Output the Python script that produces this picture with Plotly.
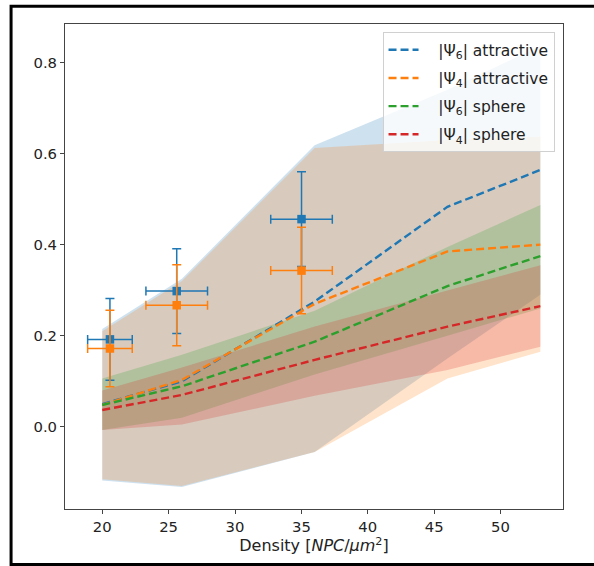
import plotly.graph_objects as go

# Simulation densities (NPC / um^2)
x_sim = [20, 26, 36, 46, 53]

# |Psi6| attractive: mean and band limits
psi6_attr_mean = [0.050, 0.100, 0.275, 0.483, 0.564]
psi6_attr_lo = [-0.118, -0.132, -0.055, 0.150, 0.290]
psi6_attr_hi = [0.215, 0.325, 0.618, 0.740, 0.836]

# |Psi4| attractive
psi4_attr_mean = [0.048, 0.103, 0.270, 0.385, 0.400]
psi4_attr_lo = [-0.115, -0.130, -0.055, 0.106, 0.165]
psi4_attr_hi = [0.210, 0.320, 0.612, 0.630, 0.637]

# |Psi6| sphere
psi6_sph_mean = [0.048, 0.089, 0.187, 0.309, 0.375]
psi6_sph_lo = [-0.007, 0.020, 0.115, 0.200, 0.260]
psi6_sph_hi = [0.106, 0.158, 0.255, 0.395, 0.487]

# |Psi4| sphere
psi4_sph_mean = [0.037, 0.070, 0.147, 0.220, 0.265]
psi4_sph_lo = [-0.007, 0.005, 0.068, 0.125, 0.176]
psi4_sph_hi = [0.080, 0.130, 0.220, 0.300, 0.355]

# Experimental measurements
x_exp = [20.58, 25.61, 35.01]
x_exp_err = [1.68, 2.32, 2.32]
psi6_exp = [0.192, 0.298, 0.456]
psi6_exp_err = [0.090, 0.093, 0.104]
psi4_exp = [0.172, 0.267, 0.343]
psi4_exp_err = [0.084, 0.089, 0.095]

labels = ["|Ψ<sub>6</sub>| attractive", "|Ψ<sub>4</sub>| attractive",
          "|Ψ<sub>6</sub>| sphere", "|Ψ<sub>4</sub>| sphere"]
colors = ["#1f77b4", "#ff7f0e", "#2ca02c", "#d62728"]
rgb = [(31, 119, 180), (255, 127, 14), (44, 160, 44), (214, 39, 40)]
series = [
    (psi6_attr_mean, psi6_attr_lo, psi6_attr_hi),
    (psi4_attr_mean, psi4_attr_lo, psi4_attr_hi),
    (psi6_sph_mean, psi6_sph_lo, psi6_sph_hi),
    (psi4_sph_mean, psi4_sph_lo, psi4_sph_hi),
]
FILL_ALPHA = 0.22
FONT = "DejaVu Sans"
PAD = "\u00a0\u00a0\u00a0"  # gap between legend line sample and its label

fig = go.Figure()

# Shaded bands
for (mean, lo, hi), (r, g, b) in zip(series, rgb):
    fig.add_trace(go.Scatter(
        x=x_sim + x_sim[::-1], y=hi + lo[::-1],
        fill="toself", fillcolor=f"rgba({r},{g},{b},{FILL_ALPHA})",
        line=dict(width=0), mode="lines", showlegend=False, hoverinfo="skip"))

# Dashed mean curves
for i, ((mean, lo, hi), c, lab) in enumerate(zip(series, colors, labels)):
    fig.add_trace(go.Scatter(
        x=x_sim, y=mean, mode="lines", name=PAD + lab, legendgroup=f"g{i}",
        line=dict(color=c, width=2.4, dash="8px,4px")))

# Experimental points with error bars
for yv, ye, c in [(psi6_exp, psi6_exp_err, colors[0]), (psi4_exp, psi4_exp_err, colors[1])]:
    fig.add_trace(go.Scatter(
        x=x_exp, y=yv, mode="markers", showlegend=False,
        marker=dict(symbol="square", size=8.5, color=c),
        error_y=dict(type="data", array=ye, color=c, thickness=1.5, width=4.5),
        error_x=dict(type="data", array=x_exp_err, color=c, thickness=1.5, width=4.5)))

# Axis limits with 5% padding around all plotted data
x_all = x_sim + [a - e for a, e in zip(x_exp, x_exp_err)] + [a + e for a, e in zip(x_exp, x_exp_err)]
y_all = [v for s in series for arr in s for v in arr]
y_all += [a + e for a, e in zip(psi6_exp, psi6_exp_err)] + [a - e for a, e in zip(psi4_exp, psi4_exp_err)]
xmin, xmax = min(x_all), max(x_all)
ymin, ymax = min(y_all), max(y_all)
xpad, ypad = 0.05 * (xmax - xmin), 0.05 * (ymax - ymin)

axis_common = dict(showline=True, linecolor="#444", linewidth=1, mirror=True,
                   ticks="outside", ticklen=4, tickwidth=1, tickcolor="#444",
                   showgrid=False, zeroline=False,
                   tickfont=dict(family=FONT, size=14.8, color="#222"))

fig.update_layout(
    width=594, height=566,
    margin=dict(l=65, r=30.5, t=24, b=57),
    paper_bgcolor="white", plot_bgcolor="white",
    font=dict(family=FONT, size=15, color="#222"),
    xaxis=dict(range=[xmin - xpad, xmax + xpad], tickvals=[20, 25, 30, 35, 40, 45, 50],
               title=dict(text="Density [<i>NPC</i>/<i>μm</i><sup>2</sup>]",
                          font=dict(family=FONT, size=16, color="#222"), standoff=5),
               **axis_common),
    yaxis=dict(range=[ymin - ypad, ymax + ypad], tickvals=[0.0, 0.2, 0.4, 0.6, 0.8],
               tickformat=".1f", **axis_common),
    legend=dict(x=0.983, y=0.983, xanchor="right", yanchor="top",
                bgcolor="rgba(255,255,255,0.8)", bordercolor="#d0d0d0", borderwidth=1,
                font=dict(family=FONT, size=15.5, color="#222"),
                tracegroupgap=5, itemwidth=30, traceorder="grouped"),
    shapes=[dict(type="rect", xref="paper", yref="paper",
                 x0=-0.1083, x1=1.08, y0=-0.1145, y1=1.0365,
                 line=dict(color="black", width=3), fillcolor="rgba(0,0,0,0)", layer="above")],
)

fig.write_html("out.html")
